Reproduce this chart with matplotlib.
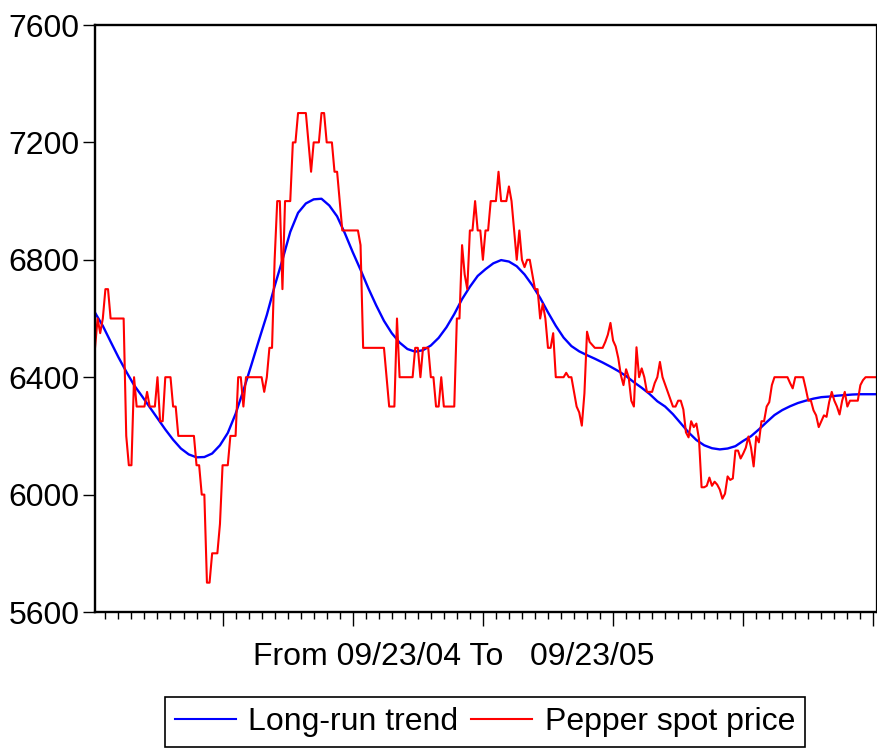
import numpy as np
import matplotlib
matplotlib.use('Agg')
import matplotlib.pyplot as plt
from matplotlib.ticker import MultipleLocator, NullFormatter

# daily pepper spot price, 09/23/04 - 09/23/05 (301 obs)
spot_price = [
    6500, 6600, 6550, 6600, 6700, 6700, 6600, 6600, 6600, 6600,
    6600, 6600, 6200, 6100, 6100, 6400, 6300, 6300, 6300, 6300,
    6350, 6300, 6300, 6300, 6400, 6250, 6250, 6400, 6400, 6400,
    6300, 6300, 6200, 6200, 6200, 6200, 6200, 6200, 6200, 6100,
    6100, 6000, 6000, 5700, 5700, 5800, 5800, 5800, 5900, 6100,
    6100, 6100, 6200, 6200, 6200, 6400, 6400, 6300, 6400, 6400,
    6400, 6400, 6400, 6400, 6400, 6350, 6400, 6500, 6500, 6800,
    7000, 7000, 6700, 7000, 7000, 7000, 7200, 7200, 7300, 7300,
    7300, 7300, 7200, 7100, 7200, 7200, 7200, 7300, 7300, 7200,
    7200, 7200, 7100, 7100, 7000, 6900, 6900, 6900, 6900, 6900,
    6900, 6900, 6850, 6500, 6500, 6500, 6500, 6500, 6500, 6500,
    6500, 6500, 6400, 6300, 6300, 6300, 6600, 6400, 6400, 6400,
    6400, 6400, 6400, 6500, 6500, 6400, 6500, 6500, 6500, 6400,
    6400, 6300, 6300, 6400, 6300, 6300, 6300, 6300, 6300, 6600,
    6600, 6850, 6750, 6700, 6900, 6900, 7000, 6900, 6900, 6800,
    6900, 6900, 7000, 7000, 7000, 7100, 7000, 7000, 7000, 7050,
    7000, 6900, 6800, 6900, 6800, 6775, 6800, 6800, 6750, 6700,
    6700, 6600, 6650, 6600, 6500, 6500, 6550, 6400, 6400, 6400,
    6400, 6415, 6400, 6400, 6350, 6300, 6280, 6235, 6345, 6555,
    6520, 6510, 6500, 6500, 6500, 6500, 6520, 6545, 6585, 6525,
    6505, 6465, 6407, 6373, 6427, 6400, 6320, 6300, 6502, 6400,
    6430, 6400, 6350, 6350, 6350, 6380, 6400, 6452, 6400, 6375,
    6350, 6325, 6300, 6300, 6320, 6320, 6290, 6212, 6195, 6250,
    6230, 6242, 6190, 6025, 6025, 6030, 6058, 6030, 6044, 6034,
    6017, 5986, 6003, 6062, 6050, 6055, 6150, 6150, 6123, 6140,
    6160, 6198, 6160, 6096, 6198, 6178, 6250, 6250, 6300, 6315,
    6373, 6400, 6400, 6400, 6400, 6400, 6400, 6380, 6362, 6400,
    6400, 6400, 6400, 6362, 6320, 6320, 6287, 6270, 6230, 6250,
    6270, 6265, 6315, 6350, 6320, 6300, 6273, 6320, 6350, 6300,
    6320, 6320, 6320, 6320, 6373, 6390, 6400, 6400, 6400, 6400,
    6400,
]

# long-run trend, sampled every 3rd obs (1, 4, ..., 301)
trend_step = 3
trend = [
    6620, 6575, 6521, 6468, 6419, 6373, 6336, 6298, 6260, 6222,
    6187, 6157, 6137, 6127, 6128, 6140, 6168, 6210, 6275, 6355,
    6440, 6527, 6612, 6710, 6800, 6895, 6960, 6992, 7006, 7008,
    6985, 6948, 6890, 6826, 6766, 6703, 6645, 6592, 6550, 6518,
    6496, 6487, 6492, 6508, 6534, 6570, 6615, 6666, 6708, 6745,
    6768, 6788, 6799, 6794, 6778, 6750, 6713, 6670, 6621, 6575,
    6535, 6506, 6488, 6475, 6463, 6450, 6436, 6421, 6404, 6383,
    6364, 6343, 6318, 6300, 6274, 6243, 6212, 6186, 6168, 6158,
    6154, 6157, 6165, 6183, 6199, 6222, 6247, 6271, 6288, 6301,
    6312, 6320, 6327, 6332, 6334, 6337, 6339, 6341, 6342, 6342,
    6342,
]

y_ticks = [5600, 6000, 6400, 6800, 7200, 7600]
period_label = 'From 09/23/04 To   09/23/05'


def plotTrend():
    plt.rcParams['font.family'] = ['Liberation Sans', 'DejaVu Sans']
    W, H = 878, 752
    fig = plt.figure(figsize=(W / 100, H / 100), dpi=100)
    ax = fig.add_axes([95 / W, 1 - 612 / H, 781 / W, 587 / H])

    obs = np.arange(1, len(spot_price) + 1)
    trend_obs = np.arange(1, len(trend) * trend_step, trend_step)

    l1, = ax.plot(trend_obs, trend, color='#0000ff', lw=1.7)
    l2, = ax.plot(obs, spot_price, color='#ff0000', lw=1.5)

    ax.set_xlim(1, len(spot_price))
    ax.set_ylim(5600, 7600)
    ax.set_yticks(y_ticks)
    ax.tick_params(axis='y', direction='out', length=9, width=1, labelsize=23, pad=2)
    ax.xaxis.set_major_locator(MultipleLocator(50))
    ax.xaxis.set_minor_locator(MultipleLocator(5))
    ax.xaxis.set_major_formatter(NullFormatter())
    ax.tick_params(axis='x', which='major', direction='out', length=10, width=1)
    ax.tick_params(axis='x', which='minor', direction='out', length=5, width=1)

    for side in ['left', 'top', 'bottom']:
        ax.spines[side].set_linewidth(1.7)
    ax.spines['right'].set_linewidth(0.9)

    fig.text(454 / W, 1 - 657 / H, period_label, fontsize=23, ha='center', va='center')

    leg = fig.legend([l1, l2], ['Long-run trend', 'Pepper spot price'],
                     loc='center', bbox_to_anchor=(485 / W, 1 - 722 / H), ncol=2,
                     fontsize=23, frameon=True, fancybox=False, framealpha=1,
                     edgecolor='black', handlelength=1.9, handletextpad=0.4,
                     columnspacing=0.4, borderpad=0.3, borderaxespad=0)
    leg.get_frame().set_linewidth(1.2)
    for line in leg.get_lines():
        line.set_linewidth(1.5)

    fig.savefig('out.png', dpi=100)


if __name__ == '__main__':
    plotTrend()
